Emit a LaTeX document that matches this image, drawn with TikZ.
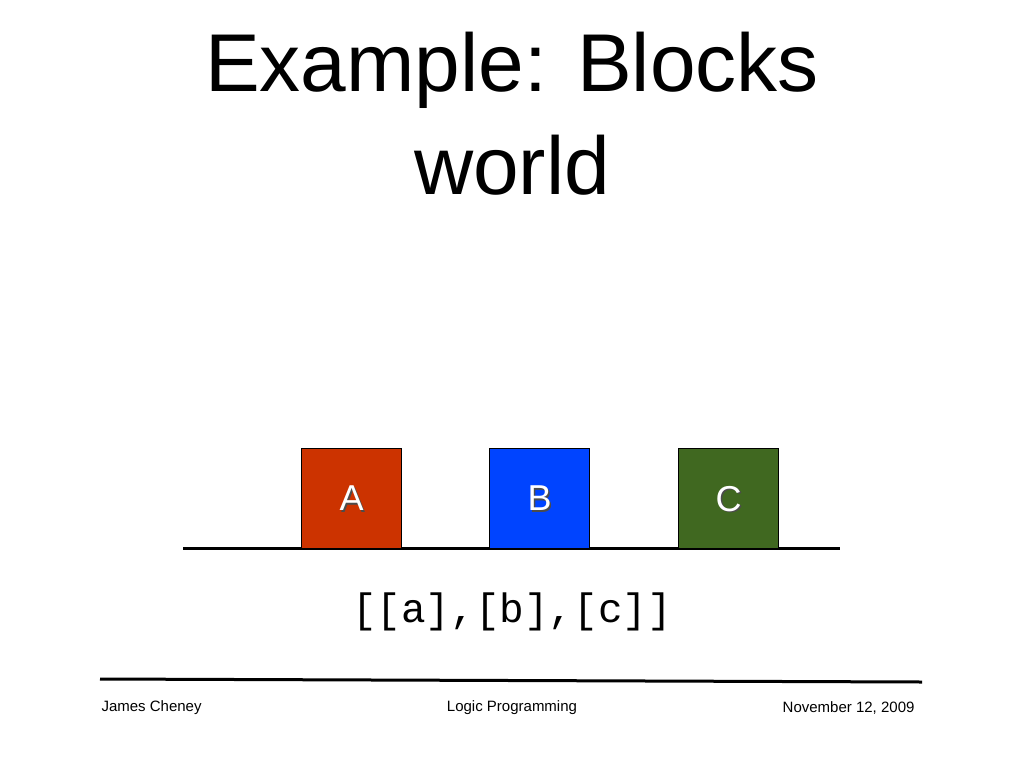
\documentclass[tikz,border=0pt]{standalone}
\usepackage{fontspec}
\setmainfont{Liberation Sans}
\newfontfamily\monof{Liberation Mono}
\begin{document}
\begin{tikzpicture}[x=1pt,y=-1pt,
  blk/.style={draw=black,line width=1.2pt,minimum size=100pt,inner sep=0pt,anchor=north west},
  lbl/.style={text=white,font=\fontsize{36}{36}\selectfont},
  shd/.style={text=black!70,font=\fontsize{36}{36}\selectfont}]
\useasboundingbox (0,0) rectangle (1024,768);
\node (t1) at (512,70) {\fontsize{82}{82}\selectfont Example: Blocks};
\node (t2) at (512,165) {\fontsize{82}{82}\selectfont world};
\coordinate (g1) at (183,548); \coordinate (g2) at (840,548);
\draw[line width=3pt] (g1) -- (g2);
\node[blk,fill={rgb,255:red,204;green,51;blue,0}] (A) at (301,448) {};
\node[blk,fill={rgb,255:red,0;green,68;blue,255}] (B) at (489,448) {};
\node[blk,fill={rgb,255:red,64;green,104;blue,32}] (C) at (678,448) {};
\foreach \n/\t in {A/A,B/B,C/C}{
  \node[shd] at ([xshift=1.5pt,yshift=-1.5pt]\n.center) {\t};
  \node[lbl] at (\n.center) {\t};}
\node (lst) at (512,612) {\monof\fontsize{41}{41}\selectfont [[a],[b],[c]]};
\coordinate (f1) at (100,679); \coordinate (f2) at (922,682);
\draw[line width=3pt] (f1) -- (f2);
\node[anchor=west,font=\fontsize{15}{15}\selectfont] (l) at (98,708) {James Cheney};
\node[font=\fontsize{15}{15}\selectfont] (m) at (512,708) {Logic Programming};
\node[anchor=east,font=\fontsize{15}{15}\selectfont] (r) at (918,708) {November 12, 2009};
\end{tikzpicture}
\end{document}
